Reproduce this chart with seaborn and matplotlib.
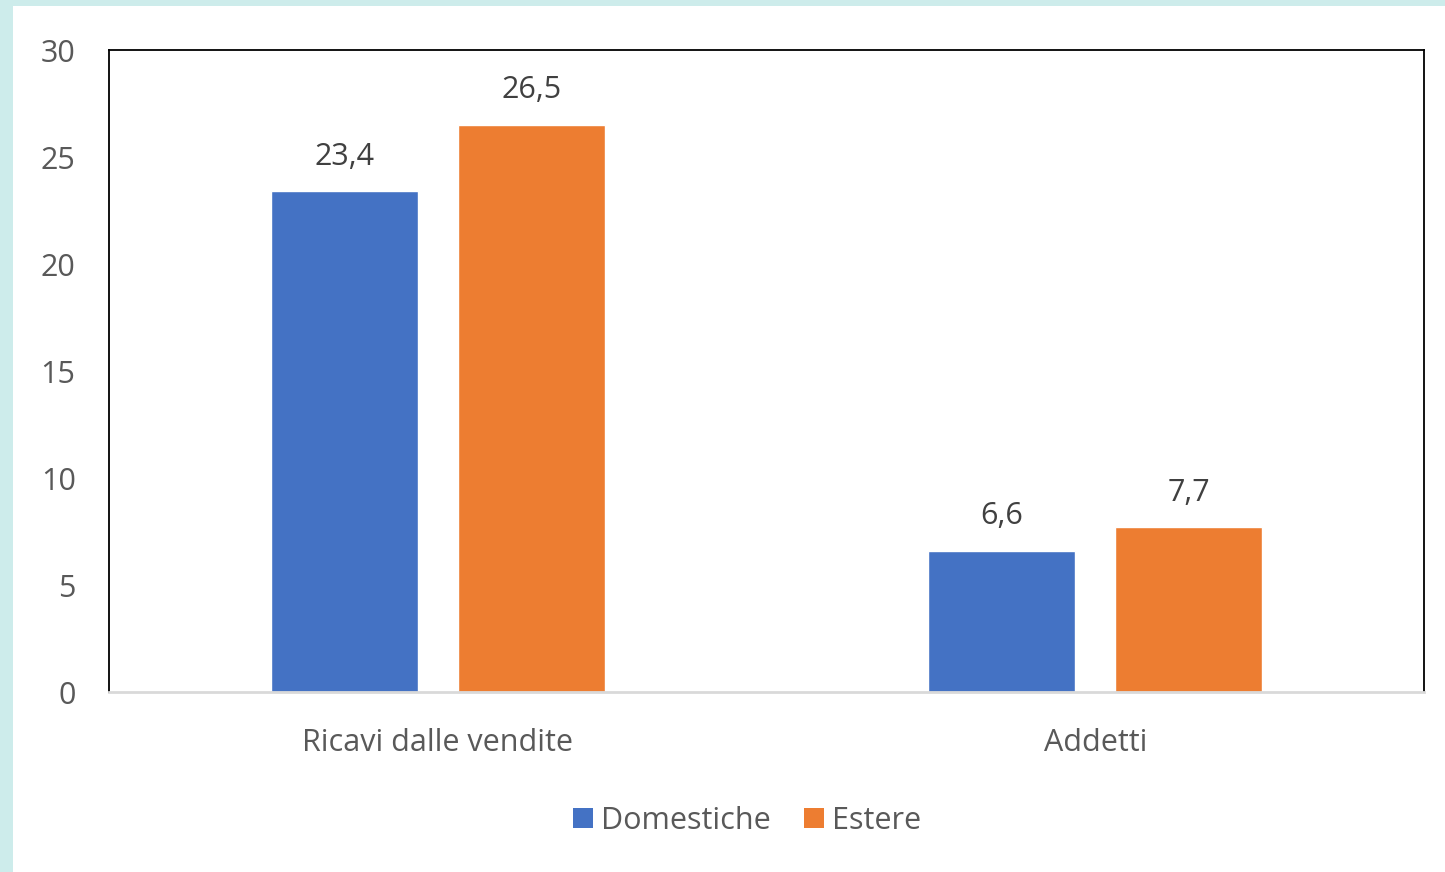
import numpy as np
import pandas as pd
import matplotlib
matplotlib.use("Agg")
import matplotlib.pyplot as plt
from matplotlib.patches import Rectangle, Patch
import seaborn as sns

categories = ["Ricavi dalle vendite", "Addetti"]
domestiche = [23.4, 6.6]
estere = [26.5, 7.7]
series_names = ["Domestiche", "Estere"]
yticks = [0, 5, 10, 15, 20, 25, 30]

df = pd.DataFrame({
    "categoria": categories * 2,
    "valore": domestiche + estere,
    "serie": [series_names[0]] * 2 + [series_names[1]] * 2,
})

sns.set_theme(style="white")
plt.rcParams["font.family"] = ["Open Sans", "DejaVu Sans"]
text_col = "#595959"
palette = {"Domestiche": "#4472c4", "Estere": "#ed7d31"}

fig = plt.figure(figsize=(14.45, 8.72), dpi=100)
fig.patch.set_facecolor("#cdeceb")
fig.patches.append(Rectangle((13 / 1445, 0), 1, 1 - 6 / 872, transform=fig.transFigure,
                             facecolor="white", edgecolor="none", zorder=-5))

ax = fig.add_axes([109 / 1445, 1 - 692 / 872, 1315 / 1445, 642 / 872])
ax.set_zorder(2)
sns.barplot(data=df, x="categoria", y="valore", hue="serie", palette=palette,
            width=0.569, gap=0.214, saturation=1, ax=ax, legend=False)

ax.set_xlim(-0.5, 1.5)
ax.set_ylim(0, 30)
ax.set_yticks(yticks)
ax.set_xlabel("")
ax.set_ylabel("")
ax.tick_params(axis="y", labelsize=22, labelcolor=text_col, length=0, pad=24)
ax.tick_params(axis="x", labelsize=22, labelcolor=text_col, length=0, pad=26)
for s in ["left", "top", "right"]:
    ax.spines[s].set_color("black")
    ax.spines[s].set_linewidth(1.3)
ax.spines["bottom"].set_color("#d9d9d9")
ax.spines["bottom"].set_linewidth(2)

for cont in ax.containers:
    labels = [f"{b.get_height():.1f}".replace(".", ",") for b in cont]
    ax.bar_label(cont, labels=labels, padding=14, fontsize=22, color="#404040")

handles = [Patch(facecolor=palette[n], edgecolor="none") for n in series_names]
fig.legend(handles, series_names, loc="center", bbox_to_anchor=(747 / 1445, 1 - 821 / 872),
           ncol=2, frameon=False, fontsize=22, labelcolor=text_col,
           handlelength=0.65, handleheight=0.65, handletextpad=0.25, columnspacing=1.1)

fig.savefig("out.png", dpi=100, facecolor=fig.get_facecolor())
